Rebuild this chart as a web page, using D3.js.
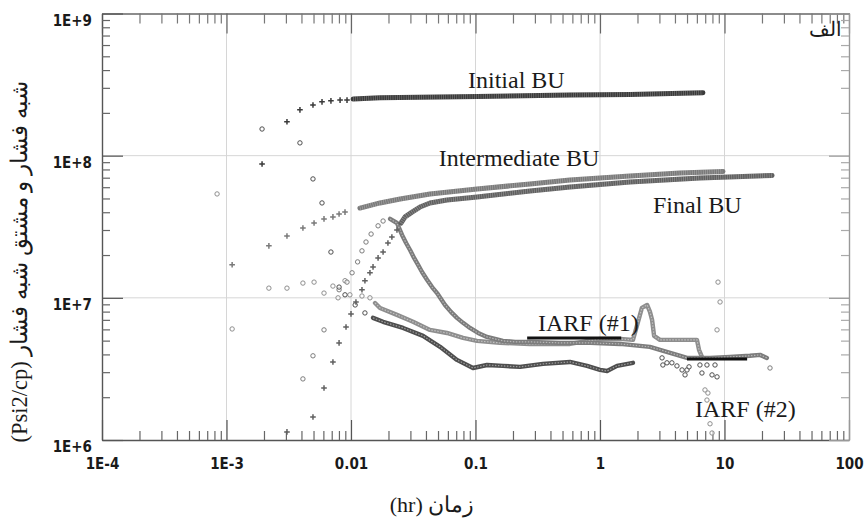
<!DOCTYPE html>
<html><head><meta charset="utf-8">
<script src="https://cdn.jsdelivr.net/npm/d3@7"></script>
<style>body{margin:0;background:#fff} svg{display:block}</style>
</head><body><svg id="c" width="865" height="522"></svg>
<script>
// ---------- axis ticks ----------
const xTickValues = [1e-4,1e-3,1e-2,1e-1,1,10,100];
const xTickLabels = ["1E-4","1E-3","0.01","0.1","1","10","100"];
const yTickValues = [1e6,1e7,1e8,1e9];
const yTickLabels = ["1E+6","1E+7","1E+8","1E+9"];

// ---------- pressure (+ markers) ----------
const initialPressT = [0.00193,0.00306,0.00389,0.00495,0.00585,0.0069,0.00817,0.00929,0.0104,0.0171,0.103,0.574,1.74,6.71];
const initialPressP = [8.74e7,1.73e8,2.10e8,2.27e8,2.39e8,2.43e8,2.46e8,2.46e8,2.50e8,2.55e8,2.61e8,2.67e8,2.69e8,2.77e8];

const intermediatePressT = [0.00111,0.00219,0.00306,0.00411,0.00505,0.00607,0.00716,0.00802,0.00895,0.0118,0.0171,0.0248,0.0431,0.103,0.274,0.574,1.74,4.39,9.72];
const intermediatePressP = [1.71e7,2.32e7,2.72e7,3.10e7,3.36e7,3.59e7,3.71e7,3.89e7,4.01e7,4.28e7,4.65e7,4.96e7,5.38e7,5.83e7,6.32e7,6.75e7,7.20e7,7.55e7,7.75e7];

const finalPressT = [0.00306,0.00495,0.00607,0.00716,0.00802,0.00912,0.0100,0.01096,0.01225,0.01294,0.0142,0.01503,0.0165,0.0181,0.0198,0.0213,0.0234,0.0252,0.0272,0.0309,0.0358,0.0431,0.059,0.103,0.274,0.574,1.74,6.35,24.1];
const finalPressP = [1.14e6,1.45e6,2.32e6,3.54e6,4.82e6,6.24e6,7.71e6,9.35e6,1.14e7,1.32e7,1.50e7,1.65e7,1.91e7,2.10e7,2.43e7,2.68e7,3.00e7,3.36e7,3.71e7,4.01e7,4.35e7,4.65e7,4.88e7,5.12e7,5.64e7,6.03e7,6.53e7,6.97e7,7.26e7];

// ---------- derivative (o markers) ----------
const initialDerivT = [0.00193,0.00389,0.00495,0.00585,0.0069,0.00802,0.00895,0.0108,0.01294,0.01503,0.0181,0.0262,0.0379,0.0519,0.071,0.0955,0.1236,0.166,0.228,0.348,0.574,0.787,1.00,1.14,1.37,1.84];
const initialDerivP = [1.54e8,1.23e8,6.86e7,4.65e7,2.10e7,1.19e7,1.05e7,8.91e6,7.83e6,7.23e6,6.78e6,6.14e6,5.40e6,4.52e6,3.66e6,3.21e6,3.37e6,3.32e6,3.27e6,3.43e6,3.54e6,3.32e6,3.11e6,3.06e6,3.32e6,3.49e6];
const initialDerivTailT = [3.15,3.2,3.45,3.78,4.15,4.56,4.82,5.0,5.19,6.35,6.59,7.23,7.94,8.39,8.71];
const initialDerivTailP = [3.78e6,3.37e6,3.49e6,3.49e6,3.32e6,3.11e6,2.87e6,3.11e6,3.27e6,3.37e6,2.96e6,3.37e6,2.87e6,3.37e6,2.78e6];

const intermediateDerivT = [0.00084,0.00111,0.00219,0.00306,0.00411,0.00505,0.00607,0.00716,0.00787,0.00895,0.0098,0.01225,0.0142,0.0156,0.0171,0.0234,0.0315,0.0431,0.059,0.0794,0.1028,0.157,0.274,0.574,1.00,1.45,1.84,2.02,2.17,2.39,2.52,2.62,2.72,3.03,4.39,6.01,6.24,6.59];
const intermediateDerivP = [5.38e7,6.04e6,1.17e7,1.17e7,1.27e7,1.29e7,1.08e7,1.21e7,1.0e7,1.32e7,1.05e7,1.03e7,1.0e7,9.2e6,8.49e6,7.59e6,6.78e6,5.95e6,5.66e6,5.22e6,4.98e6,4.82e6,4.74e6,4.74e6,5.14e6,5.14e6,5.06e6,6.78e6,8.49e6,8.91e6,7.96e6,7.0e6,5.40e6,5.06e6,5.06e6,5.06e6,4.31e6,3.84e6];
const intermediateDerivTailT = [6.97,7.36,7.23,7.65,7.94,8.71,9.21,8.87];
const intermediateDerivTailP = [2.25e6,2.14e6,1.91e6,1.30e6,1.12e6,5.95e6,9.35e6,1.29e7];

const finalDerivT = [0.00411,0.00495,0.00607,0.00802,0.00929,0.0102,0.0113,0.01225,0.0132,0.0145,0.0165,0.0181,0.0206,0.0234,0.0257,0.0277,0.0298,0.0321,0.0345,0.0372,0.0408,0.0448,0.0491,0.0569,0.0635,0.071,0.0794,0.0903,0.105,0.1236,0.1435,0.166,0.208,0.274,0.477,0.832,1.45,2.52,3.03,4.15,5.0,7.65,11.07,16.0,19.3,21.9];
const finalDerivP = [2.69e6,3.91e6,5.95e6,1.14e7,1.29e7,1.50e7,1.79e7,2.14e7,2.47e7,2.81e7,3.21e7,3.47e7,3.59e7,3.36e7,2.77e7,2.43e7,2.17e7,1.91e7,1.71e7,1.52e7,1.34e7,1.19e7,1.08e7,8.91e6,7.96e6,7.23e6,6.67e6,6.14e6,5.66e6,5.31e6,5.14e6,4.98e6,4.90e6,4.90e6,4.82e6,4.82e6,4.74e6,4.52e6,4.31e6,3.97e6,3.78e6,3.78e6,3.84e6,3.91e6,3.97e6,3.78e6];
const finalDerivTailT = [23.2];
const finalDerivTailP = [3.21e6];

// ---------- IARF straight lines ----------
const iarf1T = [0.26,1.48];
const iarf1P = [5.22e6,5.22e6];
const iarf2T = [5.0,15.2];
const iarf2P = [3.72e6,3.72e6];

// ---------- render ----------
const svg = d3.select('#c');
const L=102,R=849,T=13.5,B=440;
const x = d3.scaleLog().domain([1e-4,100]).range([L,R]);
const y = d3.scaleLog().domain([1e6,1e9]).range([B,T]);
const zip = (ts,ps)=>ts.map((t,i)=>({t,p:ps[i]}));

// grid
const g = svg.append('g');
g.selectAll('.gx').data(xTickValues.slice(1,-1)).join('line')
  .attr('x1',d=>x(d)).attr('x2',d=>x(d)).attr('y1',T).attr('y2',B)
  .attr('stroke','#d6d6d6').attr('stroke-width',1);
g.selectAll('.gy').data(yTickValues.slice(1,-1)).join('line')
  .attr('x1',L).attr('x2',R).attr('y1',d=>y(d)).attr('y2',d=>y(d))
  .attr('stroke','#d6d6d6').attr('stroke-width',1);

// minor tick values
const minorX=[], minorY=[];
for(let e=-4;e<2;e++) for(let k=2;k<10;k++) minorX.push(k*Math.pow(10,e));
for(let e=6;e<9;e++) for(let k=2;k<10;k++) minorY.push(k*Math.pow(10,e));

const tickFont = '"DejaVu Sans Condensed","DejaVu Sans",sans-serif';
function styleAxis(sel,col){
  sel.selectAll('path.domain').attr('stroke',col).attr('stroke-width',1.4);
  sel.selectAll('.tick line').attr('stroke',col).attr('stroke-width',1.2);
  sel.selectAll('text').attr('font-family',tickFont).attr('font-weight','bold')
     .attr('font-stretch','condensed').attr('font-size',15).attr('fill','#1a1a1a');
}
// bottom
const ab = svg.append('g').attr('transform',`translate(0,${B})`)
  .call(d3.axisBottom(x).tickValues(xTickValues).tickSizeInner(-20).tickSizeOuter(0).tickPadding(18)
  .tickFormat((d,i)=>xTickLabels[i]));
styleAxis(ab,'#555');
const abm = svg.append('g').attr('transform',`translate(0,${B})`)
  .call(d3.axisBottom(x).tickValues(minorX).tickSize(-9).tickFormat(''));
abm.select('.domain').remove(); styleAxis(abm,'#666');
// top
const at = svg.append('g').attr('transform',`translate(0,${T})`)
  .call(d3.axisTop(x).tickValues(xTickValues).tickSizeInner(-20).tickSizeOuter(0).tickFormat(''));
styleAxis(at,'#666');
const atm = svg.append('g').attr('transform',`translate(0,${T})`)
  .call(d3.axisTop(x).tickValues(minorX).tickSize(-10).tickFormat(''));
atm.select('.domain').remove(); styleAxis(atm,'#777');
// left
const al = svg.append('g').attr('transform',`translate(${L},0)`)
  .call(d3.axisLeft(y).tickValues(yTickValues).tickSizeInner(-21).tickSizeOuter(0).tickPadding(10)
  .tickFormat((d,i)=>yTickLabels[i]));
styleAxis(al,'#555');
al.selectAll('text').attr('y',7);
const alm = svg.append('g').attr('transform',`translate(${L},0)`)
  .call(d3.axisLeft(y).tickValues(minorY).tickSize(-8).tickFormat(''));
alm.select('.domain').remove(); styleAxis(alm,'#666');
// right
const ar = svg.append('g').attr('transform',`translate(${R},0)`)
  .call(d3.axisRight(y).tickValues(yTickValues).tickSizeInner(-20).tickSizeOuter(0).tickFormat(''));
styleAxis(ar,'#999');
const arm = svg.append('g').attr('transform',`translate(${R},0)`)
  .call(d3.axisRight(y).tickValues(minorY).tickSize(-8).tickFormat(''));
arm.select('.domain').remove(); styleAxis(arm,'#aaa');

// series config
const lineLin = d3.line().x(d=>x(d.t)).y(d=>y(d.p));
const series = [
  {pts:zip(intermediateDerivT,intermediateDerivP), mk:'o', col:'#8e8e8e', from:0.0156},
  {pts:zip(intermediateDerivTailT,intermediateDerivTailP), mk:'o', col:'#8e8e8e', from:Infinity},
  {pts:zip(finalDerivT,finalDerivP), mk:'o', col:'#7c7c7c', from:0.0206},
  {pts:zip(finalDerivTailT,finalDerivTailP), mk:'o', col:'#7c7c7c', from:Infinity},
  {pts:zip(initialDerivT,initialDerivP), mk:'o', col:'#4e4e4e', from:0.01503},
  {pts:zip(initialDerivTailT,initialDerivTailP), mk:'o', col:'#4e4e4e', from:Infinity},
  {pts:zip(intermediatePressT,intermediatePressP), mk:'+', col:'#7a7a7a', from:0.0118},
  {pts:zip(finalPressT,finalPressP), mk:'+', col:'#606060', from:0.0252},
  {pts:zip(initialPressT,initialPressP), mk:'+', col:'#3a3a3a', from:0.0104},
];
const dg = svg.append('g');
series.forEach(s=>{
  const band = s.pts.filter(d=>d.t>=s.from);
  if(band.length>1){
    if(s.mk==='+'){
      dg.append('path').attr('d',lineLin(band)).attr('fill','none').attr('stroke',s.col)
        .attr('stroke-width',5).attr('stroke-linecap','round').attr('stroke-linejoin','round');
      dg.append('path').attr('d',lineLin(band)).attr('fill','none').attr('stroke','#fff')
        .attr('stroke-width',5).attr('stroke-dasharray','0.6,1.6').attr('stroke-opacity',0.35);
    } else {
      dg.append('path').attr('d',lineLin(band)).attr('fill','none').attr('stroke',s.col)
        .attr('stroke-width',4.4).attr('stroke-linecap','round').attr('stroke-linejoin','round');
      dg.append('path').attr('d',lineLin(band)).attr('fill','none').attr('stroke','#fff')
        .attr('stroke-width',1.2).attr('stroke-opacity',0.45).attr('stroke-dasharray','1.5,1.5');
    }
  }
  const sp = s.pts.filter(d=>d.t<s.from);
  if(s.mk==='+'){
    dg.append('g').selectAll('path').data(sp).join('path')
      .attr('d',d=>`M${x(d.t)-2.8},${y(d.p)}h5.6M${x(d.t)},${y(d.p)-2.8}v5.6`)
      .attr('stroke',s.col).attr('stroke-width',1.5);
  } else {
    dg.append('g').selectAll('circle').data(sp).join('circle')
      .attr('cx',d=>x(d.t)).attr('cy',d=>y(d.p)).attr('r',2.2)
      .attr('fill','#fff').attr('fill-opacity',0.6).attr('stroke',s.col).attr('stroke-width',1);
  }
});

// IARF lines
[[iarf1T,iarf1P],[iarf2T,iarf2P]].forEach(([ts,ps])=>{
  svg.append('path').attr('d',lineLin(zip(ts,ps))).attr('stroke','#111').attr('stroke-width',3).attr('fill','none');
});

// annotations
const serif = '"Liberation Serif","Times New Roman",serif';
const ann = [
  {text:'Initial BU', x:468, y:87.5, a:'start'},
  {text:'Intermediate BU', x:519, y:166, a:'middle'},
  {text:'Final BU', x:653, y:213, a:'start'},
  {text:'IARF (#1)', x:538, y:331, a:'start'},
  {text:'IARF (#2)', x:695, y:417, a:'start'},
];
svg.append('g').selectAll('text').data(ann).join('text')
  .attr('x',d=>d.x).attr('y',d=>d.y).attr('text-anchor',d=>d.a)
  .attr('font-family',serif).attr('font-size',24).attr('fill','#1a1a1a').text(d=>d.text);

// title / axis labels
svg.append('text').attr('x',842).attr('y',36).attr('text-anchor','end')
  .attr('font-family',serif).attr('font-size',20).attr('fill','#1a1a1a').text('الف');
svg.append('text').attr('transform','translate(27,262) rotate(-90)').attr('text-anchor','middle')
  .attr('direction','rtl').attr('font-family',serif).attr('font-size',22.5).attr('fill','#1a1a1a')
  .text('شبه فشار و مشتق شبه فشار (Psi2/cp)');
svg.append('text').attr('x',432).attr('y',512).attr('text-anchor','middle')
  .attr('direction','rtl').attr('font-family',serif).attr('font-size',22).attr('fill','#1a1a1a')
  .text('زمان (hr)');
</script></body></html>
